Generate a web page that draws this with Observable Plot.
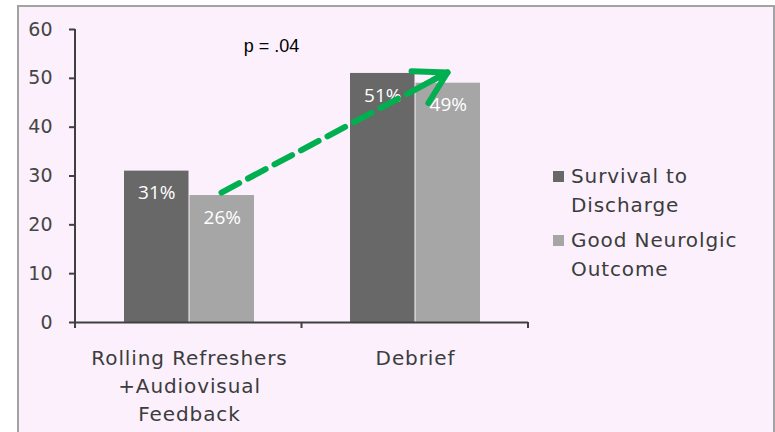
<!DOCTYPE html>
<html><head><meta charset="utf-8">
<script src="https://cdn.jsdelivr.net/npm/d3@7"></script>
<script src="https://cdn.jsdelivr.net/npm/@observablehq/plot@0.6"></script>
<style>
html,body{margin:0;padding:0;background:#fff;overflow:hidden;}
#wrap{position:relative;width:775px;height:432px;overflow:hidden;}
#frame{position:absolute;left:17px;top:5px;width:754px;height:460px;border:2px solid #a3a3a3;background:#fbf0fc;}
#chart{position:absolute;left:0;top:0;}
#legend{position:absolute;left:553px;top:162px;font-family:"DejaVu Sans";font-size:20px;color:#3c3c3c;letter-spacing:0.9px}
.item{display:flex;align-items:flex-start;margin-bottom:6px;line-height:29px}
.sw{width:11px;height:11px;margin-top:9px;margin-right:7px;flex:none}
#chart svg g[aria-label="x-axis tick label"] text{letter-spacing:0.9px}
</style></head><body>
<div id="wrap"><div id="frame"></div><div id="chart"></div><div id="legend"></div></div>
<script>
const categories = ["Rolling Refreshers\n+Audiovisual\nFeedback", "Debrief"];
const seriesNames = ["Survival to Discharge", "Good Neurolgic Outcome"];
const legendLines = [["Survival to", "Discharge"], ["Good Neurolgic", "Outcome"]];
const survival = [31, 51];
const goodNeuro = [26, 49];
const yTicks = [0, 10, 20, 30, 40, 50, 60];
const seriesColors = ["#686868", "#a6a6a6"];
const pValueLabel = "p = .04";
const arrowStart = {cat: categories[0], value: 26.6};
const arrowEnd = {cat: categories[1], value: 51.2};

const rows = categories.flatMap((c, i) => [
  {cat: c, s: 0, value: survival[i]},
  {cat: c, s: 1, value: goodNeuro[i]}
]);
const arrowData = [{x1: arrowStart.cat, y1: arrowStart.value, x2: arrowEnd.cat, y2: arrowEnd.value}];

const plot = Plot.plot({
  width: 775, height: 432,
  marginLeft: 75, marginRight: 247, marginTop: 29, marginBottom: 110,
  style: {background: "transparent", fontFamily: "DejaVu Sans", overflow: "visible"},
  x: {domain: categories, padding: 0, axis: null, label: null},
  y: {domain: [0, 60], axis: null, label: null},
  marks: [
    Plot.barY(rows.filter(d => d.s === 0), {x: "cat", y: "value", fill: seriesColors[0], insetLeft: 48, insetRight: 113.5}),
    Plot.barY(rows.filter(d => d.s === 1), {x: "cat", y: "value", fill: seriesColors[1], insetLeft: 113.5, insetRight: 48}),
    Plot.ruleY([0], {stroke: "#404040", strokeWidth: 2}),
    Plot.axisY({ticks: yTicks, tickSize: 6, tickPadding: 17, fontSize: 19, fill: "#454545", stroke: "#404040", strokeWidth: 2, label: null}),
    Plot.axisX({tickSize: 0, tickPadding: 23, fontSize: 20, lineHeight: 1.4, fill: "#3c3c3c", label: null}),
    Plot.text(rows.filter(d => d.s === 0), {x: "cat", y: "value", text: d => d.value + "%", dx: -32.75, dy: 22, fill: "white", fontSize: 19, fontFamily: "Open Sans"}),
    Plot.text(rows.filter(d => d.s === 1), {x: "cat", y: "value", text: d => d.value + "%", dx: 32.75, dy: 22, fill: "white", fontSize: 19, fontFamily: "Open Sans"}),
    Plot.arrow(arrowData, {x1: "x1", y1: "y1", x2: "x2", y2: "y2", stroke: "#00b050", strokeWidth: 6, strokeDasharray: "20,10", headLength: 0, dx: 32}),
    Plot.arrow(arrowData, {x1: "x1", y1: "y1", x2: "x2", y2: "y2", stroke: "#00b050", strokeWidth: 6, headLength: 9, insetStart: 232, dx: 32}),
    Plot.text([pValueLabel], {x: () => categories[0], y: () => 56.5, text: d => d, dx: 82, fill: "black", fontSize: 18, fontFamily: "Liberation Sans"})
  ]
});

const xs = plot.scale("x"), ys = plot.scale("y");
const y0 = ys.apply(0), yTop = ys.apply(60);
const svg = d3.select(plot);
const g = svg.append("g").attr("stroke", "#404040").attr("stroke-width", 2);
g.append("line").attr("x1", xs.range[0]).attr("x2", xs.range[0]).attr("y1", yTop).attr("y2", y0 + 6);
d3.range(categories.length + 1).forEach(k => {
  const bx = xs.range[0] + k * (xs.range[1] - xs.range[0]) / categories.length;
  g.append("line").attr("x1", bx).attr("x2", bx).attr("y1", y0).attr("y2", y0 + 6);
});
document.getElementById("chart").append(plot);

const legend = d3.select("#legend");
seriesNames.forEach((name, i) => {
  const item = legend.append("div").attr("class", "item").attr("title", name);
  item.append("div").attr("class", "sw").style("background", seriesColors[i]);
  item.append("div").html(legendLines[i].join("<br>"));
});
</script>
</body></html>
